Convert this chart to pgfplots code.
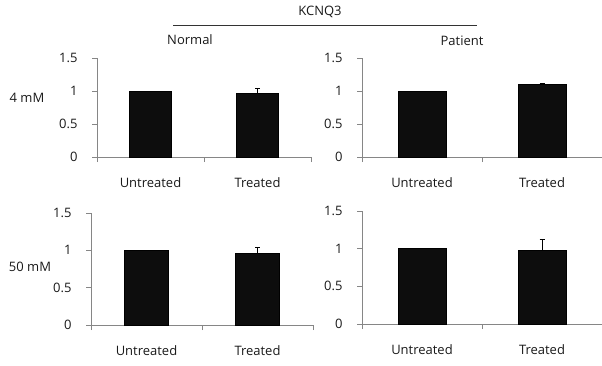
\documentclass[border=0pt]{standalone}
\usepackage{fontspec}
\setmainfont{Open Sans}
\usepackage{pgfplots}
\pgfplotsset{compat=1.18}
\definecolor{axgray}{RGB}{134,134,134}
\definecolor{barblack}{RGB}{13,13,13}
\pgfplotsset{panel/.style={
  scale only axis, anchor=south west,
  xmin=-0.5, xmax=1.5, ymin=0, ymax=1.5,
  axis x line*=bottom, axis y line*=left,
  axis line style={axgray, line width=0.8pt},
  ytick={0,0.5,1,1.5},
  xtick={-0.5,0.5,1.5}, xticklabels={},
  extra x ticks={0,1}, extra x tick labels={Untreated,Treated},
  extra x tick style={major tick length=0pt, xticklabel style={yshift=-17bp}},
  tick align=outside, major tick length=5bp,
  tick style={axgray, line width=0.8pt},
  yticklabel style={xshift=-11bp},
  font=\fontsize{13bp}{15bp}\selectfont,
  ticklabel style={font=\fontsize{13bp}{15bp}\selectfont, text=black!90},
  /pgf/number format/assume math mode=true,
  ybar, clip=false,
  error bars/error bar style={black, line width=1pt},
  error bars/error mark options={rotate=90, mark size=2.5bp, line width=1pt},
}}
\begin{document}
\begin{tikzpicture}[x=1bp,y=1bp]
\path[use as bounding box] (0,0) rectangle (602,365);
% top-left: Normal, 4 mM
\begin{axis}[panel, at={(97bp,208bp)}, width=214bp, height=99bp, bar width=42bp]
\addplot[ybar, bar shift=0pt, fill=barblack, draw=black] coordinates {(0,1.00)};
\addplot[ybar, bar shift=0pt, fill=barblack, draw=black, error bars/.cd, y dir=plus, y explicit]
  coordinates {(1,0.97) +- (0,0.07)};
\end{axis}
% top-right: Patient, 4 mM
\begin{axis}[panel, at={(362bp,208bp)}, width=240bp, height=99bp, bar width=48bp]
\addplot[ybar, bar shift=0pt, fill=barblack, draw=black] coordinates {(0,1.00)};
\addplot[ybar, bar shift=0pt, fill=barblack, draw=black, error bars/.cd, y dir=plus, y explicit]
  coordinates {(1,1.10) +- (0,0.015)};
\end{axis}
% bottom-left: Normal, 50 mM
\begin{axis}[panel, at={(91bp,40bp)}, width=222bp, height=112bp, bar width=44bp]
\addplot[ybar, bar shift=0pt, fill=barblack, draw=black] coordinates {(0,1.00)};
\addplot[ybar, bar shift=0pt, fill=barblack, draw=black, error bars/.cd, y dir=plus, y explicit]
  coordinates {(1,0.96) +- (0,0.08)};
\end{axis}
% bottom-right: Patient, 50 mM
\begin{axis}[panel, at={(362bp,41bp)}, width=240bp, height=113bp, bar width=48bp]
\addplot[ybar, bar shift=0pt, fill=barblack, draw=black] coordinates {(0,1.00)};
\addplot[ybar, bar shift=0pt, fill=barblack, draw=black, error bars/.cd, y dir=plus, y explicit]
  coordinates {(1,0.98) +- (0,0.145)};
\end{axis}
\begin{scope}[font=\fontsize{13bp}{15bp}\selectfont, text=black!90]
\node at (320,353) {KCNQ3};
\draw[black!80, line width=0.8pt] (173,339.5) -- (477,339.5);
\node at (190,325) {Normal};
\node at (462,324) {Patient};
\node at (27,267) {4 mM};
\node at (30,98) {50 mM};
\end{scope}
\end{tikzpicture}
\end{document}
